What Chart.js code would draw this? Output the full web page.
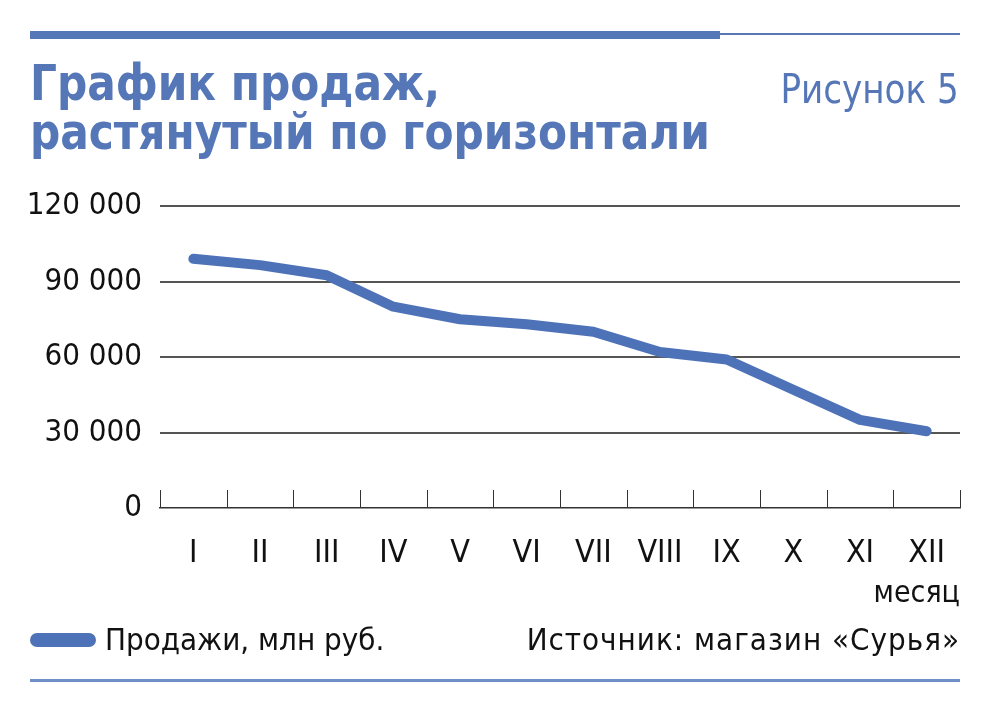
<!DOCTYPE html>
<html lang="ru">
<head>
<meta charset="utf-8">
<script src="https://cdn.jsdelivr.net/npm/chart.js@4.4.1/dist/chart.umd.min.js"></script>
<style>
  body { margin: 0; background: #fff; }
  #page { position: relative; width: 990px; height: 713px; overflow: hidden;
    font-family: 'Liberation Sans Narrow', 'DejaVu Sans Condensed', 'Roboto Condensed', Roboto, sans-serif; }
  #chart { position: absolute; left: 0; top: 0; }
  .abs { position: absolute; white-space: nowrap; line-height: 1; }
  .bar-thick { left: 30px; top: 31px; width: 690px; height: 8px; background: #5577b8; }
  .bar-thin { left: 720px; top: 33px; width: 240px; height: 2px; background: #5577b8; }
  .bar-bottom { left: 30px; top: 679px; width: 930px; height: 3px; background: #6f8fc6; }
  .title { left: 30px; top: 59px; font-size: 50px; font-weight: bold; color: #5577b8; line-height: 49px;
    transform: scaleX(0.94); transform-origin: left top; }
  .fig { right: 31px; top: 69px; font-size: 40px; color: #5577b8;
    transform: scaleX(0.95); transform-origin: right top; }
  .unit { right: 30px; top: 577px; font-size: 30px; color: #111; }
  .leg-line { left: 30px; top: 633px; width: 66px; height: 14px; border-radius: 7px; background: #4e72b8; }
  .leg-text { left: 105px; top: 624px; font-size: 31px; color: #111; }
  .source { right: 30px; top: 624px; font-size: 31px; color: #111; letter-spacing: 1px; }
</style>
</head>
<body>
<div id="page">
  <canvas id="chart" width="990" height="713"></canvas>
  <div class="abs bar-thick"></div>
  <div class="abs bar-thin"></div>
  <div class="abs title">График продаж,<br>растянутый по горизонтали</div>
  <div class="abs fig">Рисунок 5</div>
  <div class="abs unit">месяц</div>
  <div class="abs leg-line"></div>
  <div class="abs leg-text">Продажи, млн руб.</div>
  <div class="abs source">Источник: магазин «Сурья»</div>
  <div class="abs bar-bottom"></div>
</div>
<script>
const months = ['I', 'II', 'III', 'IV', 'V', 'VI', 'VII', 'VIII', 'IX', 'X', 'XI', 'XII'];
const sales = [99000, 96500, 92500, 80000, 75000, 73000, 70000, 62000, 59000, 47000, 35000, 30500];
const yTicks = [0, 30000, 60000, 90000, 120000];

const FONT = "'Liberation Sans Narrow', 'DejaVu Sans Condensed', 'Roboto Condensed', Roboto, sans-serif";

function fmt(v) {
  return String(v).replace(/\B(?=(\d{3})+(?!\d))/g, ' ');
}

// small tick marks pointing up from the x axis, between the months
const upTicks = {
  id: 'upTicks',
  afterDraw(chart) {
    const a = chart.chartArea;
    const n = chart.data.labels.length;
    const step = (a.right - a.left) / n;
    const ctx = chart.ctx;
    ctx.save();
    ctx.strokeStyle = '#333';
    ctx.lineWidth = 1;
    for (let i = 0; i <= n; i++) {
      const x = Math.round(a.left + i * step) + 0.5;
      ctx.beginPath();
      ctx.moveTo(x, a.bottom);
      ctx.lineTo(x, a.bottom - 18);
      ctx.stroke();
    }
    ctx.restore();
  }
};

new Chart(document.getElementById('chart'), {
  type: 'line',
  data: {
    labels: months,
    datasets: [{
      label: 'Продажи, млн руб.',
      data: sales,
      borderColor: '#4e72b8',
      borderWidth: 10,
      borderCapStyle: 'round',
      borderJoinStyle: 'round',
      pointRadius: 0,
      tension: 0,
      fill: false
    }]
  },
  options: {
    responsive: false,
    animation: false,
    events: [],
    layout: { padding: { left: 0, right: 30, top: 206, bottom: 145 } },
    plugins: {
      legend: { display: false },
      tooltip: { enabled: false }
    },
    scales: {
      x: {
        offset: true,
        grid: { display: false },
        border: { display: true, color: '#333', width: 1.5 },
        ticks: { color: '#111', padding: 18, font: { family: FONT, size: 32 } },
        afterFit(scale) { scale.height = 60; }
      },
      y: {
        min: 0,
        max: 120000,
        afterBuildTicks(scale) { scale.ticks = yTicks.map(v => ({ value: v })); },
        grid: {
          drawTicks: false,
          color: ctx => ctx.tick && ctx.tick.value === 0 ? 'rgba(0,0,0,0)' : '#555',
          lineWidth: 2
        },
        border: { display: false },
        ticks: {
          color: '#111',
          padding: 18,
          font: { family: FONT, size: 31 },
          callback: v => fmt(v)
        },
        afterFit(scale) { scale.width = 160; }
      }
    }
  },
  plugins: [upTicks]
});
</script>
</body>
</html>
